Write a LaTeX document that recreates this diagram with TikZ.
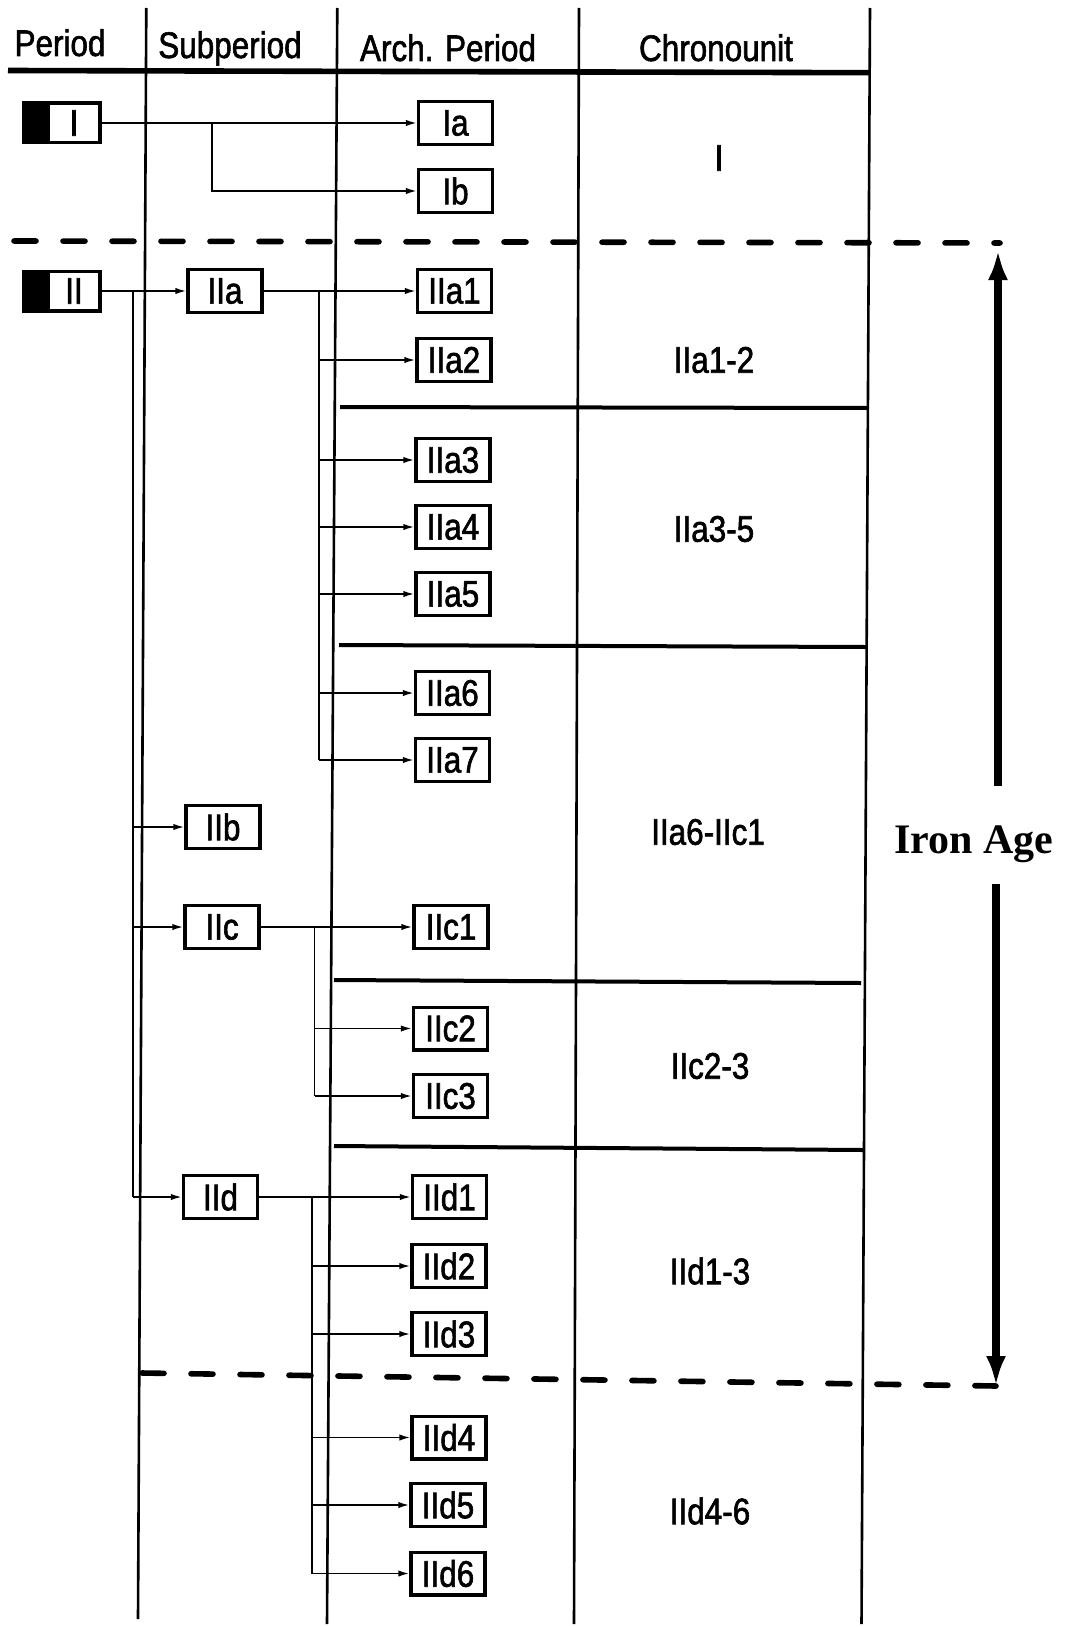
\documentclass[tikz,border=0pt]{standalone}
\usepackage{fontspec}
\setmainfont{Liberation Sans}[FakeStretch=0.85,FakeBold=1.6]
\newfontfamily\ironfont{Liberation Serif}
\usetikzlibrary{arrows.meta,calc}
\begin{document}
\begin{tikzpicture}[x=0.5pt,y=-0.5pt,
  lbl/.style={font=\fontsize{18.5}{20}\selectfont, inner sep=0pt},
  box/.style={draw, line width=1.7pt, minimum width=37pt, minimum height=21.3pt, inner sep=0pt, font=\fontsize{18.5}{20}\selectfont},
  pbox/.style={draw, line width=1.7pt, minimum width=26pt, minimum height=19.8pt, inner sep=0pt, font=\fontsize{18.5}{20}\selectfont},
  conn/.style={line width=0.85pt, -{Latex[length=5.5pt,width=3.2pt]}},
  link/.style={line width=0.85pt},
  col/.style={line width=1.3pt},
  sep/.style={line width=2pt},
  dline/.style={line width=2.8pt, dash pattern=on 11pt off 13.5pt, line cap=round},
  bigarrow/.style={line width=4.2pt, -{Latex[length=15pt,width=10pt]}}
]
\useasboundingbox (0,0) rectangle (1069,1627);
\fill[white] (0,0) rectangle (1069,1627);

% column lines
\draw[col] (146.3,8) -- (138,1619);
\draw[col] (337.3,8) -- (327,1624);
\draw[col] (579,8) -- (574,1624);
\draw[col] (870,8) -- (861.5,1624);

% header
\node[lbl, anchor=base] (hP) at (60,56) {Period};
\node[lbl, anchor=base] (hS) at (230,58) {Subperiod};
\node[lbl, anchor=base] (hA) at (448,61) {Arch. Period};
\node[lbl, anchor=base] (hC) at (716,61) {Chronounit};
\draw[line width=2.8pt] (8,70.5) -- (870,72.7);

% separators
\draw[sep] (340,407) -- (868,408);
\draw[sep] (339,645) -- (866,647);
\draw[sep] (334,980) -- (861,983);
\draw[sep] (334,1146) -- (863,1150);

% dashed lines
\draw[dline] (14,241) -- (1000,243);
\draw[dline] (142,1373) -- (996,1386);

% period boxes
\node[pbox] (I) at (74,123) {I};
\fill[black] (I.south west) rectangle ($(I.north west)+(-24,0)$);
\node[pbox] (II) at (74,291) {II};
\fill[black] (II.south west) rectangle ($(II.north west)+(-24,0)$);

% subperiod boxes
\node[box] (IIa) at (225,291) {IIa};
\node[box] (IIb) at (223,827) {IIb};
\node[box] (IIc) at (222,927) {IIc};
\node[box] (IId) at (220.5,1197) {IId};

% arch period boxes
\node[box] (Ia) at (455.5,123) {Ia};
\node[box] (Ib) at (455.5,191) {Ib};
\node[box] (IIa1) at (454.5,291) {IIa1};
\node[box] (IIa2) at (454,360) {IIa2};
\node[box] (IIa3) at (453,460) {IIa3};
\node[box] (IIa4) at (453,527) {IIa4};
\node[box] (IIa5) at (453,594) {IIa5};
\node[box] (IIa6) at (452.5,693) {IIa6};
\node[box] (IIa7) at (452.5,760) {IIa7};
\node[box] (IIc1) at (451,927) {IIc1};
\node[box] (IIc2) at (450.5,1028.5) {IIc2};
\node[box] (IIc3) at (450.5,1096) {IIc3};
\node[box] (IId1) at (449.5,1197) {IId1};
\node[box] (IId2) at (449,1266) {IId2};
\node[box] (IId3) at (449,1334) {IId3};
\node[box] (IId4) at (449,1437.5) {IId4};
\node[box] (IId5) at (448,1505) {IId5};
\node[box] (IId6) at (448,1573.5) {IId6};

% chronounit labels
\node[lbl] (cI) at (719,158) {I};
\node[lbl] (c1) at (714,360) {IIa1-2};
\node[lbl] (c2) at (714,529) {IIa3-5};
\node[lbl] (c3) at (708,832) {IIa6-IIc1};
\node[lbl] (c4) at (710,1066) {IIc2-3};
\node[lbl] (c5) at (710,1271) {IId1-3};
\node[lbl] (c6) at (710,1511) {IId4-6};

% connectors: I
\coordinate (bI) at (212,123);
\draw[conn] (I) -- (Ia);
\draw[conn] (bI) |- (Ib);

% connectors: II
\draw[conn] (II) -- (IIa);
\coordinate (bII) at (133,291);
\draw[link] (bII) -- (bII |- IId);
\draw[conn] (bII |- IIb) -- (IIb);
\draw[conn] (bII |- IIc) -- (IIc);
\draw[conn] (bII |- IId) -- (IId);

% connectors: IIa
\draw[conn] (IIa) -- (IIa1);
\coordinate (bIIa) at (319,291);
\draw[link] (bIIa) -- (bIIa |- IIa7);
\foreach \n in {IIa2,IIa3,IIa4,IIa5,IIa6,IIa7}
  \draw[conn] (bIIa |- \n) -- (\n);

% connectors: IIc
\draw[conn] (IIc) -- (IIc1);
\coordinate (bIIc) at (314.5,927);
\draw[link] (bIIc) -- (bIIc |- IIc3);
\foreach \n in {IIc2,IIc3}
  \draw[conn] (bIIc |- \n) -- (\n);

% connectors: IId
\draw[conn] (IId) -- (IId1);
\coordinate (bIId) at (312,1197);
\draw[link] (bIId) -- (bIId |- IId6);
\foreach \n in {IId2,IId3,IId4,IId5,IId6}
  \draw[conn] (bIId |- \n) -- (\n);

% Iron Age
\node[inner sep=0pt, anchor=base, font=\ironfont\bfseries\fontsize{21}{24}\selectfont] (iron) at (974,853) {Iron Age};
\coordinate (ua) at (998,786);
\coordinate (ut) at (998,250);
\coordinate (la) at (996,884);
\coordinate (lt) at (996,1386);
\draw[bigarrow] (ua) -- (ut);
\draw[bigarrow] (la) -- (lt);
\end{tikzpicture}
\end{document}
